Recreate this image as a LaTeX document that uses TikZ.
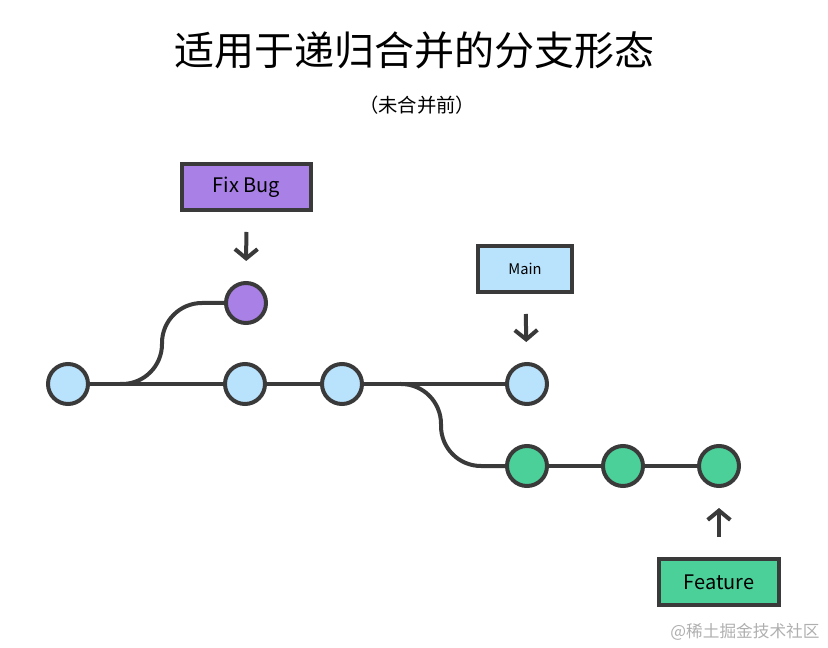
\documentclass[tikz,border=0pt]{standalone}
\usepackage{fontspec}
\setmainfont{Noto Sans CJK SC}
\usetikzlibrary{arrows.meta}
\definecolor{edge}{RGB}{58,58,58}
\definecolor{mainblue}{RGB}{185,226,252}
\definecolor{fixpurple}{RGB}{168,128,230}
\definecolor{featgreen}{RGB}{76,208,154}
\definecolor{markgray}{RGB}{175,175,175}

\begin{document}
\begin{tikzpicture}[x=0.75pt, y=-0.75pt,
    commit/.style={circle, draw=edge, line width=3pt, minimum size=30pt, inner sep=0pt},
    labelbox/.style={draw=edge, line width=3pt, minimum height=34.5pt, inner sep=0pt,
      font=\fontsize{15}{18}\selectfont},
    branch/.style={draw=edge, line width=3pt},
    pointer/.style={draw=edge, line width=3pt, -{Straight Barb[length=7pt, width=17pt]},
      shorten <=15pt, shorten >=15pt}]
  \useasboundingbox (0,0) rectangle (828,648);

  \node (title) at (414,50) {\fontsize{30}{36}\selectfont 适用于递归合并的分支形态};
  \node (subtitle) at (417,105) {\fontsize{14.5}{17}\selectfont （未合并前）};

  {\tikzset{every node/.style={commit, fill=mainblue}}
    \foreach \i/\x in {0/68, 1/245, 2/342, 3/527}
    {
      \node (b\i) at (\x,384) {};
    }
  }
  {\tikzset{every node/.style={commit, fill=featgreen}}
    \foreach \i/\x in {0/527, 1/623, 2/719}
    {
      \node (g\i) at (\x,466) {};
    }
  }
  \node[commit, fill=fixpurple] (fix) at (246,303) {};

  \node[labelbox, fill=fixpurple, minimum width=96.75pt] (fixlbl) at (246.5,187) {Fix Bug};
  \node[labelbox, fill=mainblue, minimum width=70.5pt,
    font=\fontsize{11}{13}\selectfont] (mainlbl) at (525,269) {Main};
  \node[labelbox, fill=featgreen, minimum width=90pt] (featlbl) at (719,582) {Feature};

  \coordinate (fork1) at (120,384);
  \coordinate (bend1) at (162,303);
  \coordinate (fork2) at (400,384);
  \coordinate (bend2) at (441,466);

  \draw[branch]
    (b0) -- (b1)
    (b1) -- (b2)
    (b2) -- (b3)
    (g0) -- (g1)
    (g1) -- (g2);

  \draw[branch, rounded corners=30pt] (fork1) -| (bend1) -- (fix);
  \draw[branch, rounded corners=30pt] (fork2) -| (bend2) -- (g0);

  \draw[pointer] (fixlbl) -- (fix);
  \draw[pointer] (mainlbl) -- (b3);
  \draw[pointer] (featlbl) -- (g2);

  \node[text=markgray, font=\fontsize{12.5}{15}\selectfont] (mark) at (745,632) {@稀土掘金技术社区};
\end{tikzpicture}
\end{document}
